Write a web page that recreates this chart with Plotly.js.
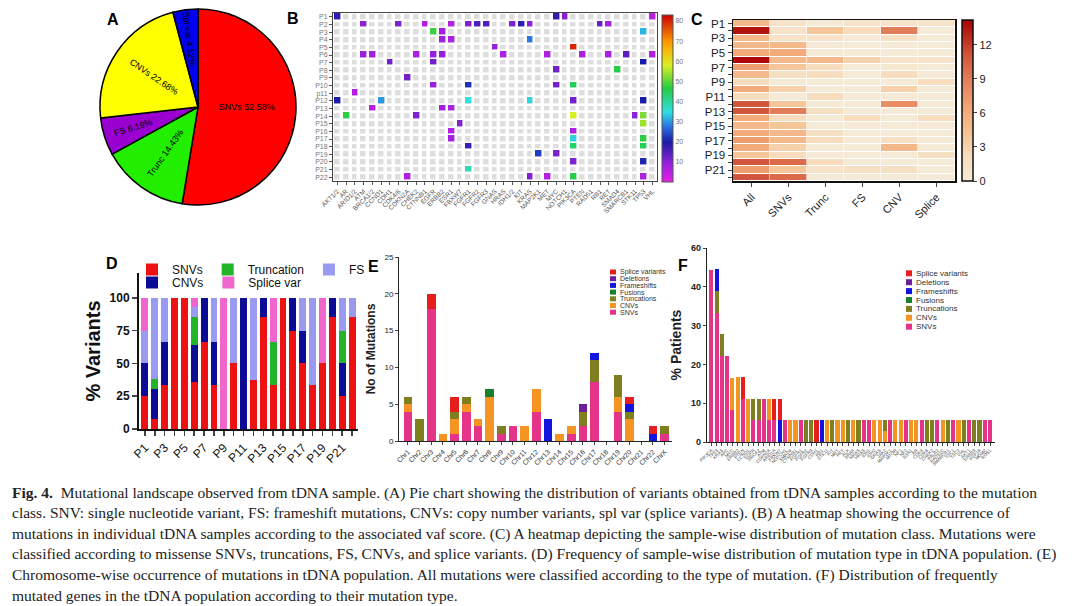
<!DOCTYPE html>
<html><head><meta charset="utf-8">
<script src="https://cdn.plot.ly/plotly-3.0.1.min.js"></script>
<style>html,body{margin:0;padding:0;background:#fff;}#chart{width:1080px;height:606px;}</style>
</head><body><div id="chart"></div>
<script>
const W = 1080, H = 606;
const px = v => v / W;
const py = v => 1 - v / H;
const FONT = 'Liberation Sans, Arial, sans-serif';

// ---------- Panel A : pie ----------
const pieLabels = ['SNVs', 'Trunc', 'FS', 'CNVs', 'Spl var'];
const pieValues = [52.58, 14.43, 6.19, 22.68, 4.12];
const pieColors = ['#ff0000', '#22ee00', '#9a00d0', '#ffff00', '#0000ee'];

// ---------- Panel B : VAF heatmap ----------
const genesB = ['AKT1/2','AR','ARID1/2','ATM','BRCA1/2','CCND1','CDH1','CDK4/6','CDKN2A','CHEK2','CTNNB1','EGFR','ERBB2','ESR1','FBXW7','FGFR1','FGFR2','FGFR3','GNAS','HRAS','IDH1/2','KIT','KRAS','MAP2K1','MET','MYC','NOTCH1','PIK3CA','PTEN','RAD51','RB1','RET','SMAD4','SMARCB1','STK11','TP53','VHL'];
const patientsB = ['P1','P2','P3','P4','P5','P6','P7','P8','P9','P10','p11','P12','P13','P14','P15','P16','P17','P18','P19','P20','P21','P22'];
// gene column indices hit in each patient, and their VAF (%)
const hitGenes = [
  [0,25,26,36],
  [3,7,10,13,15,16,17,20,21,22,30,31],
  [11,12,35],
  [12,13,22],
  [18,27],
  [3,4,9,11,12,19,24,28,31,33,36],
  [6,11,35],
  [25,32],
  [8],
  [11,15,25,27],
  [2],
  [0,5,15,22,27,35],
  [4,12,13],
  [1,9,27,34,35],
  [14,35],
  [13,27],
  [13,27,35],
  [15,27,35],
  [23,25],
  [27,35],
  [15],
  [8,22,24,27,35]
];
const hitVaf = [
  [18,18,10,5],
  [10,11,6,6,11,15,15,11,18,10,13,7],
  [48,8,32],
  [8,7,28],
  [9,80],
  [9,8,7,9,9,7,7,7,7,14,6],
  [12,12,20],
  [12,46],
  [12],
  [9,22,12,45],
  [6],
  [20,30,35,34,12,20],
  [6,8,7],
  [47,11,58,10,52],
  [11,54],
  [6,6],
  [8,34,47],
  [17,44,45],
  [23,11],
  [11,21],
  [38],
  [6,11,6,46,7]
];
const vafTicks = [10,20,30,40,50,60,70,80];

// ---------- Panel C : class heatmap ----------
const patientsC = ['P1','P2','P3','P4','P5','P6','P7','P8','P9','P10','P11','P12','P13','P14','P15','P16','P17','P18','P19','P20','P21','P22'];
const classesC = ['All','SNVs','Trunc','FS','CNV','Splice'];
const cAll    = [5,13.5,5,5,6,14,7,5,2,6,2,11,11,6,5,6,7,6,4,11,7,11];
const cSNVs   = [1,1,1,5,6,5,4,1.5,0,3,0,4,9,2,4,5,5,3,2,10,4,10];
const cTrunc  = [0,4,1,0,0,5,2,2,0,0,2,0,1.5,0,0,1.5,2,0,0,2,1,0];
const cFS     = [1,2,0,0,0,3,0,0,0,0,0,0,0,2,0,0,0,0,0,0,1.5,0];
const cCNV    = [1,9,1.5,0,0,1,0.5,2,0,3,0,8,0,0,0,0,1.5,5,0,0,1.5,0];
const cSplice = [1,0,0,0,0,1,0,0,2,0,0,0,0,2,0,0,0,0,1.5,0,0,0];
const cTicks = [0,3,6,9,12];

// ---------- Panel D : % variants per patient ----------
const patientsD = ['P1','P2','P3','P4','P5','P6','P7','P8','P9','P10','P11','P12','P13','P14','P15','P16','P17','P18','P19','P20','P21','P22'];
const dSNVs   = [25,7.7,33.3,100,100,35.7,66.7,33.3,0,50,0,37.5,85.7,33.3,100,75,50,33.3,50,85.7,25,85.7];
const dCNVs   = [25,23.1,33.3,0,0,28.6,33.3,33.3,0,0,100,0,14.3,0,0,25,25,0,0,14.3,25,0];
const dTrunc  = [0,7.7,0,0,0,21.4,0,0,0,0,0,0,0,33.3,0,0,0,0,0,0,25,0];
const dFS     = [25,61.5,33.3,0,0,7.1,0,33.3,0,50,0,62.5,0,0,0,0,25,66.7,0,0,25,14.3];
const dSplice = [25,0,0,0,0,7.1,0,0,100,0,0,0,0,33.3,0,0,0,0,50,0,0,0];
const dTicks = [0,25,50,75,100];

// ---------- Panel E : mutations per chromosome ----------
const chroms = ['Chr1','Chr2','Chr3','Chr4','Chr5','Chr6','Chr7','Chr8','Chr9','Chr10','Chr11','Chr12','Chr13','Chr14','Chr15','Chr16','Chr17','Chr18','Chr19','Chr20','Chr21','Chr22','ChrX'];
const eSNVs   = [4,0,18,0,1,4,2,0,1,2,0,4,0,0,1,2,8,0,4,0,0,0,1];
const eCNVs   = [1,0,0,1,2,1,1,6,0,0,2,3,0,1,1,0,0,0,2,3,0,0,0];
const eTrunc  = [1,3,0,0,1,1,0,0,1,0,0,0,0,0,0,2,3,0,3,1,0,0,1];
const eFusion = [0,0,0,0,0,0,0,1,0,0,0,0,0,0,0,0,0,0,0,0,0,0,0];
const eFS     = [0,0,0,0,0,0,0,0,0,0,0,0,3,0,0,0,1,0,0,1,0,1,0];
const eDel    = [0,0,0,0,0,0,0,0,0,0,0,0,0,0,0,1,0,0,0,0,0,0,0];
const eSplice = [0,0,2,0,2,0,0,0,0,0,0,0,0,0,0,0,0,0,0,1,0,1,0];

// ---------- Panel F : % patients per gene ----------
const genesF = ['PIK3CA','TP53','KRAS','APC','MYC','ERBB2','PTEN','CCND1','EGFR','BRCA2','ATM','CDKN2A','ARID1A','FBXW7','NOTCH1','SMAD4','CTNNB1','FGFR1','FGFR2','FGFR3','CDH1','RB1','STK11','KIT','MET','RET','ALK','BRAF','NRAS','HRAS','IDH1','IDH2','GNAS','JAK2','MAP2K1','MTOR','NF1','NF2','ESR1','AR','CDK4','CDK6','CHEK2','PALB2','RAD51C','SMARCB1','TSC1','TSC2','VHL','AKT1','ERBB3','FGF19','MDM2','ROS1'];
const fSNVs   = [44.4,33.3,22.2,22.2,8.3,0,11.1,0,5.6,5.6,11.1,5.6,5.6,0,5.6,0,0,5.6,0,0,0,0,0,0,0,0,0,0,0,5.6,5.6,0,0,0,5.6,0,0,5.6,0,0,5.6,0,0,5.6,0,0,5.6,0,0,5.6,0,0,5.6,5.6];
const fCNVs   = [0,0,0,0,8.3,16.7,0,11.1,0,0,0,5.6,0,0,0,5.6,5.6,0,0,0,0,0,5.6,0,5.6,5.6,0,5.6,0,0,0,5.6,5.6,2.8,0,5.6,5.6,0,5.6,5.6,0,0,0,0,5.6,0,0,5.6,0,0,0,0,0,0];
const fTrunc  = [0,5.6,5.6,0,0,0,0,0,5.6,5.6,0,0,0,0,0,0,0,0,5.6,5.6,0,0,0,5.6,0,0,5.6,0,5.6,0,0,0,0,2.8,0,0,0,0,0,0,0,5.6,5.6,0,0,5.6,0,0,5.6,0,5.6,5.6,0,0];
const fFusion = genesF.map(() => 0);
const fFS     = [0,5.6,0,0,0,0,0,0,0,0,0,0,0,5.6,0,0,0,0,0,0,0,5.6,0,0,0,0,0,0,0,0,0,0,0,0,0,0,0,0,0,0,0,0,0,0,0,0,0,0,0,0,0,0,0,0];
const fDel    = genesF.map(() => 0);
const fSplice = [0,0,0,0,0,0,5.6,0,0,0,0,0,5.6,5.6,0,0,0,0,0,0,5.6,0,0,0,0,0,0,0,0,0,0,0,0,0,0,0,0,0,0,0,0,0,0,0,0,0,0,0,0,0,0,0,0,0];
const fTickVals = [0,10,20,30,40,50];
const fTickText = ['0','10','20','30','40','60'];

const mutNames  = ['SNVs','CNVs','Truncations','Fusions','Frameshifts','Deletions','Splice variants'];
const mutColors = ['#e6338a','#f39423','#7f7f1f','#1a7f2a','#1414e0','#6a1f9a','#e61e1e'];

// ---------- Caption ----------
const captionLines = [
  '<b>Fig. 4.</b>  Mutational landscape observed from tDNA sample. (A) Pie chart showing the distribution of variants obtained from tDNA samples according to the mutation',
  'class. SNV: single nucleotide variant, FS: frameshift mutations, CNVs: copy number variants, spl var (splice variants). (B) A heatmap showing the occurrence of',
  'mutations in individual tDNA samples according to the associated vaf score. (C) A heatmap depicting the sample-wise distribution of mutation class. Mutations were',
  'classified according to missense SNVs, truncations, FS, CNVs, and splice variants. (D) Frequency of sample-wise distribution of mutation type in tDNA population. (E)',
  'Chromosome-wise occurrence of mutations in tDNA population. All mutations were classified according to the type of mutation. (F) Distribution of frequently',
  'mutated genes in the tDNA population according to their mutation type.'
];
const captionY = [493, 513, 534, 554, 575, 595];

// ================== build traces ==================
const traces = [];

traces.push({
  type: 'pie', labels: pieLabels, values: pieValues, sort: false, direction: 'clockwise', rotation: 0,
  marker: {colors: pieColors, line: {color: '#000', width: 1.5}},
  texttemplate: '%{label} %{value}%', textposition: 'inside', insidetextorientation: 'radial',
  textfont: {family: FONT, size: 9, color: '#000'}, showlegend: false, hoverinfo: 'skip',
  domain: {x: [px(100), px(296)], y: [py(205), py(9)]}
});

// B grey background cells
traces.push({
  type: 'heatmap', x: genesB, y: patientsB,
  z: patientsB.map(() => genesB.map(() => 1)),
  colorscale: [[0,'#dedede'],[1,'#dedede']], showscale: false, xgap: 3.5, ygap: 2.6,
  hoverinfo: 'skip', xaxis: 'x', yaxis: 'y'
});
const zB = patientsB.map(() => genesB.map(() => null));
hitGenes.forEach((cols, r) => cols.forEach((c, k) => { zB[r][c] = hitVaf[r][k]; }));
traces.push({
  type: 'heatmap', x: genesB, y: patientsB, z: zB, zmin: 0, zmax: 83,
  xgap: 2.6, ygap: 1.6,
  colorscale: [[0,'#e61ee6'],[0.1,'#a020e0'],[0.17,'#5a20c0'],[0.24,'#1a1aa8'],[0.33,'#2a70e0'],[0.42,'#2ee0e0'],[0.56,'#22cc44'],[0.7,'#ddee22'],[0.84,'#ff9900'],[1,'#cc0000']],
  colorbar: {x: px(662), xanchor: 'left', y: py(98.5), yanchor: 'middle', len: 167 / H, thickness: 11,
    outlinewidth: 1, outlinecolor: '#555', tickvals: vafTicks, ticks: '', tickfont: {family: FONT, size: 7, color: '#777'}, ypad: 0, xpad: 0},
  hoverinfo: 'skip', xaxis: 'x', yaxis: 'y'
});

// C
const cCols = [cAll, cSNVs, cTrunc, cFS, cCNV, cSplice];
traces.push({
  type: 'heatmap', x: classesC, y: patientsC,
  z: patientsC.map((p, r) => cCols.map(col => col[r])), zmin: 0, zmax: 14.2,
  xgap: 0.6, ygap: 1,
  colorscale: [[0,'#f5ead6'],[0.15,'#f7dcbc'],[0.3,'#f5c394'],[0.45,'#f2a676'],[0.65,'#e07a56'],[0.8,'#cf4f36'],[1,'#aa0000']],
  colorbar: {x: px(962), xanchor: 'left', y: py(100.5), yanchor: 'middle', len: 161 / H, thickness: 11,
    outlinewidth: 1.5, outlinecolor: '#111', tickvals: cTicks, ticks: 'outside', ticklen: 4,
    tickfont: {family: FONT, size: 11, color: '#222'}, ypad: 0, xpad: 0},
  hoverinfo: 'skip', xaxis: 'x2', yaxis: 'y2'
});

// D
const dSeries = [
  {name: 'SNVs', y: dSNVs, color: '#ee1111', rank: 1, legend: 'legend'},
  {name: 'CNVs', y: dCNVs, color: '#0b0b96', rank: 1, legend: 'legend2'},
  {name: 'Truncation', y: dTrunc, color: '#22b52a', rank: 2, legend: 'legend'},
  {name: 'FS', y: dFS, color: '#9a9af0', rank: 3, legend: 'legend'},
  {name: 'Splice var', y: dSplice, color: '#f066cc', rank: 2, legend: 'legend2'}
];
dSeries.forEach(s => traces.push({
  type: 'bar', x: patientsD, y: s.y, name: s.name, marker: {color: s.color}, width: 0.7,
  legend: s.legend, legendrank: s.rank, xaxis: 'x3', yaxis: 'y3', hoverinfo: 'skip'
}));

// E
const eData = [eSNVs, eCNVs, eTrunc, eFusion, eFS, eDel, eSplice];
eData.forEach((arr, i) => traces.push({
  type: 'bar', x: chroms, y: arr, name: mutNames[i], marker: {color: mutColors[i]}, width: 0.72,
  showlegend: false, xaxis: 'x4', yaxis: 'y4', hoverinfo: 'skip'
}));

// F
const fData = [fSNVs, fCNVs, fTrunc, fFusion, fFS, fDel, fSplice];
fData.forEach((arr, i) => traces.push({
  type: 'bar', x: genesF, y: arr, name: mutNames[i], marker: {color: mutColors[i]}, width: 0.78,
  showlegend: false, xaxis: 'x5', yaxis: 'y5', hoverinfo: 'skip'
}));

// ================== annotations & shapes ==================
const annotations = [];
const shapes = [];
const panelLabels = [['A',113,20],['B',293,18],['C',697,20],['D',112,263],['E',374,266],['F',683,265]];
panelLabels.forEach(([t,x,y]) => annotations.push({
  text: '<b>' + t + '</b>', x: px(x), y: py(y), xref: 'paper', yref: 'paper', showarrow: false,
  xanchor: 'center', yanchor: 'middle', font: {family: FONT, size: 16, color: '#000'}
}));

// manual legends for E and F
function addLegend(x0, yTop, step, sw, sh, fsize) {
  for (let k = 0; k < mutNames.length; k++) {
    const i = mutNames.length - 1 - k;
    const yc = yTop + k * step;
    shapes.push({type: 'rect', xref: 'paper', yref: 'paper', x0: px(x0), x1: px(x0 + sw),
      y0: py(yc + sh / 2), y1: py(yc - sh / 2), fillcolor: mutColors[i], line: {width: 0}});
    annotations.push({text: mutNames[i], x: px(x0 + sw + 2), y: py(yc), xref: 'paper', yref: 'paper',
      showarrow: false, xanchor: 'left', yanchor: 'middle', font: {family: FONT, size: fsize, color: '#333'}});
  }
}
addLegend(610, 272, 6.7, 6, 5, 7);
addLegend(906, 273.3, 8.9, 6, 6, 8);

captionLines.forEach((t, i) => annotations.push({
  text: t, x: px(10), y: py(captionY[i]), xref: 'paper', yref: 'paper', showarrow: false,
  xanchor: 'left', yanchor: 'middle', align: 'left',
  font: {family: 'Liberation Serif, Times New Roman, serif', size: 15.5, color: '#222'}
}));

// ================== layout ==================
const axBase = {showgrid: false, zeroline: false, showline: true, fixedrange: true};
const layout = {
  width: W, height: H, autosize: false, margin: {l: 0, r: 0, t: 0, b: 0},
  paper_bgcolor: '#fff', plot_bgcolor: '#fff', barmode: 'stack', bargap: 0.3,
  font: {family: FONT, color: '#000'},
  // B
  xaxis: Object.assign({}, axBase, {domain: [px(333), px(657)], anchor: 'y', type: 'category', tickangle: -45,
    tickvals: genesB, ticktext: genesB,
    tickfont: {size: 6.5, color: '#555'}, ticks: 'outside', ticklen: 3, tickcolor: '#555', mirror: true, linecolor: '#444', linewidth: 1}),
  yaxis: Object.assign({}, axBase, {domain: [py(181), py(13)], anchor: 'x', type: 'category', autorange: 'reversed',
    tickvals: patientsB, ticktext: patientsB,
    tickfont: {size: 7, color: '#777'}, ticks: 'outside', ticklen: 3, tickcolor: '#555', mirror: true, linecolor: '#444', linewidth: 1}),
  // C
  xaxis2: Object.assign({}, axBase, {domain: [px(733), px(955)], anchor: 'y2', type: 'category', tickangle: -45,
    tickfont: {size: 11, color: '#222'}, ticks: 'outside', ticklen: 4, mirror: true, linecolor: '#111', linewidth: 1.5}),
  yaxis2: Object.assign({}, axBase, {domain: [py(181), py(20)], anchor: 'x2', type: 'category', autorange: 'reversed',
    tickvals: patientsC, ticktext: patientsC.map((p, i) => i % 2 === 0 ? p : ''),
    tickfont: {size: 11.5, color: '#222'}, ticks: 'outside', ticklen: 4, mirror: true, linecolor: '#111', linewidth: 1.5}),
  // D
  xaxis3: Object.assign({}, axBase, {domain: [px(139), px(358)], anchor: 'y3', type: 'category', range: [-0.6, 21.6],
    tickvals: patientsD, ticktext: patientsD.map((p, i) => i % 2 === 0 ? p : ''), tickangle: -45,
    tickfont: {size: 12, color: '#111'}, ticks: 'outside', ticklen: 5, tickwidth: 1.5, linecolor: '#111', linewidth: 2}),
  yaxis3: Object.assign({}, axBase, {domain: [py(429), py(273)], anchor: 'x3', range: [0, 119], tickvals: dTicks,
    tickfont: {size: 12, color: '#111', weight: 'bold'}, ticks: 'outside', ticklen: 5, tickwidth: 1.5, linecolor: '#111', linewidth: 2,
    title: {text: '% Variants', font: {size: 20, weight: 'bold', color: '#111'}, standoff: 4}}),
  // E
  xaxis4: Object.assign({}, axBase, {domain: [px(399), px(672)], anchor: 'y4', type: 'category', range: [-0.77, 22.63],
    tickangle: -45, tickfont: {size: 7, color: '#333'}, ticks: 'outside', ticklen: 3, linecolor: '#222', linewidth: 1}),
  yaxis4: Object.assign({}, axBase, {domain: [py(441), py(257)], anchor: 'x4', range: [0, 25], dtick: 5,
    tickfont: {size: 8, color: '#222'}, ticks: 'outside', ticklen: 3, linecolor: '#222', linewidth: 1,
    title: {text: 'No of Mutations', font: {size: 12, weight: 'bold', color: '#222'}, standoff: 6}}),
  // F
  xaxis5: Object.assign({}, axBase, {domain: [px(707), px(995)], anchor: 'y5', type: 'category', range: [-0.82, 53.95],
    tickvals: genesF, ticktext: genesF,
    tickangle: -45, tickfont: {size: 4.5, color: '#444'}, ticks: 'outside', ticklen: 3, linecolor: '#222', linewidth: 1}),
  yaxis5: Object.assign({}, axBase, {domain: [py(442), py(248)], anchor: 'x5', range: [0, 50], tickvals: fTickVals, ticktext: fTickText,
    tickfont: {size: 9, color: '#222', weight: 'bold'}, ticks: 'outside', ticklen: 3, linecolor: '#222', linewidth: 1.2,
    title: {text: '% Patients', font: {size: 14, weight: 'bold', color: '#222'}, standoff: 6}}),
  legend: {orientation: 'h', x: px(132), y: py(255), xanchor: 'left', yanchor: 'top', traceorder: 'normal',
    font: {family: FONT, size: 12, color: '#111'}, bgcolor: 'rgba(0,0,0,0)', borderwidth: 0, itemclick: false},
  legend2: {orientation: 'h', x: px(132), y: py(268), xanchor: 'left', yanchor: 'top', traceorder: 'normal',
    font: {family: FONT, size: 12, color: '#111'}, bgcolor: 'rgba(0,0,0,0)', borderwidth: 0, itemclick: false},
  annotations: annotations, shapes: shapes
};

Plotly.newPlot('chart', traces, layout, {displayModeBar: false, staticPlot: true});
</script></body></html>
